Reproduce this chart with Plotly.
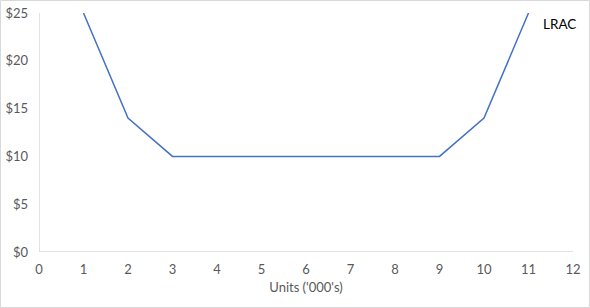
import plotly.graph_objects as go

units = [1, 2, 3, 9, 10, 11]
lrac = [25, 14, 10, 10, 14, 25]
y_ticks = [0, 5, 10, 15, 20, 25]
y_labels = ["$0", "$5", "$10", "$15", "$20", "$25"]
x_ticks = list(range(0, 13))

W, H = 590, 308
ml, mr, mt, mb = 39, 17, 13, 56
pw, ph = W - ml - mr, H - mt - mb

fig = go.Figure()
fig.add_trace(go.Scatter(x=units, y=lrac, mode="lines",
                         line=dict(color="#4472C4", width=1.5),
                         hoverinfo="skip", showlegend=False))

fig.update_layout(
    width=W, height=H,
    margin=dict(l=ml, r=mr, t=mt, b=mb, pad=0),
    paper_bgcolor="white", plot_bgcolor="white",
    font=dict(family="Lato, Carlito, Calibri, sans-serif", size=13, color="#595959"),
    xaxis=dict(range=[0, 12], tickvals=x_ticks, showgrid=False, zeroline=False,
               showline=False, ticks="", ticklen=0, automargin=False,
               ticklabelstandoff=8,
               title=dict(text="Units ('000's)", standoff=6,
                          font=dict(size=13, color="#595959"))),
    yaxis=dict(range=[0, 25], tickvals=y_ticks, ticktext=y_labels, showgrid=False,
               zeroline=False, showline=False, ticks="", ticklabelstandoff=10,
               automargin=False),
    shapes=[
        dict(type="line", xref="x", yref="y", x0=0, x1=12, y0=0, y1=0,
             line=dict(color="#D9D9D9", width=1.5), layer="below"),
        dict(type="line", xref="x", yref="y", x0=0, x1=0, y0=0, y1=25,
             line=dict(color="#D9D9D9", width=1.5), layer="below"),
        dict(type="rect", xref="paper", yref="paper",
             x0=(0.5 - ml) / pw, x1=(W - 0.5 - ml) / pw,
             y0=-(mb - 0.5) / ph, y1=1 + (mt - 0.5) / ph,
             line=dict(color="#D9D9D9", width=1)),
    ],
    annotations=[dict(text="LRAC", x=11.7, y=23.9, xref="x", yref="y",
                      showarrow=False, xanchor="center", yanchor="middle",
                      font=dict(size=13.5, color="black"))],
)

fig.write_html("out.html")
